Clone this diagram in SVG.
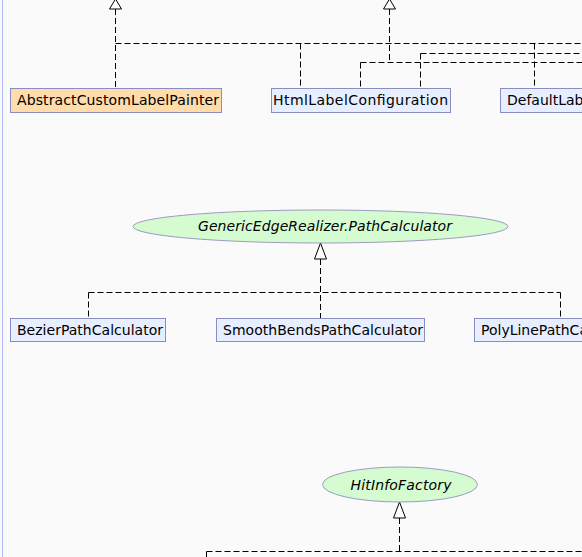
<svg xmlns="http://www.w3.org/2000/svg" width="582" height="557" viewBox="0 0 582 557">
<defs>
<style>
.bg{fill:#fafafa}
.box{stroke:#8a8cc4;stroke-width:1}
.cls{fill:#e6eeff}
.abs{fill:#ffdcaa}
.ifc{fill:#d4fcd0;stroke:#9c9cc0;stroke-width:1}
.t{font-family:"DejaVu Sans",sans-serif;font-size:14px;fill:#000}
.it{font-style:italic;text-anchor:middle}
.e{fill:none;stroke:#000;stroke-width:1;stroke-dasharray:6,3}
.ah{fill:#fff;stroke:#000;stroke-width:1}
</style>
</defs>
<rect class="bg" x="0" y="0" width="582" height="557"/>
<line x1="2.5" y1="0" x2="2.5" y2="557" stroke="#b4bcf8" stroke-width="1"/>
<g id="connectors">
<path class="e" d="M115.5 9V88M115.5 43.5H582M300.5 43.5V88M534.5 43.5V88"/>
<path class="e" d="M389.5 9V62.5M360.5 62.5H582M360.5 62.5V88M420.5 53.5H582M420.5 53.5V88"/>
<path class="e" d="M320.5 259V318M88.5 292.5H560.5M88.5 292.5V318M560.5 292.5V318"/>
<path class="e" d="M399.5 518V551.5M206.5 551.5H582M206.5 551.5V557"/>
<polygon class="ah" points="115.5,-1 109.5,9 121.5,9"/>
<polygon class="ah" points="389.5,-1 383.5,9 395.5,9"/>
<polygon class="ah" points="320.5,243 314.5,259 326.5,259"/>
<polygon class="ah" points="399.5,502 393.5,518 405.5,518"/>
</g>
<g id="AbstractCustomLabelPainter">
<rect class="box abs" x="10.5" y="88.5" width="211" height="24"/>
<text class="t" x="17" y="105" textLength="202">AbstractCustomLabelPainter</text>
</g>
<g id="HtmlLabelConfiguration">
<rect class="box cls" x="271.5" y="88.5" width="179" height="24"/>
<text class="t" x="273" y="105" textLength="175">HtmlLabelConfiguration</text>
</g>
<g id="DefaultLabelConfiguration">
<rect class="box cls" x="500.5" y="88.5" width="160" height="24"/>
<text class="t" x="507" y="105">DefaultLabelConfiguration</text>
</g>
<g id="GenericEdgeRealizer.PathCalculator">
<ellipse class="ifc" cx="320.5" cy="226.5" rx="187.5" ry="16.5"/>
<text class="t it" x="325" y="231" textLength="254">GenericEdgeRealizer.PathCalculator</text>
</g>
<g id="BezierPathCalculator">
<rect class="box cls" x="10.5" y="318.5" width="155" height="23"/>
<text class="t" x="17" y="335" textLength="146">BezierPathCalculator</text>
</g>
<g id="SmoothBendsPathCalculator">
<rect class="box cls" x="216.5" y="318.5" width="208" height="23"/>
<text class="t" x="223" y="335" textLength="200">SmoothBendsPathCalculator</text>
</g>
<g id="PolyLinePathCalculator">
<rect class="box cls" x="474.5" y="318.5" width="180" height="23"/>
<text class="t" x="481" y="335">PolyLinePathCalculator</text>
</g>
<g id="HitInfoFactory">
<ellipse class="ifc" cx="400" cy="484.5" rx="77.5" ry="17.5"/>
<text class="t it" x="401" y="490" textLength="101">HitInfoFactory</text>
</g>
</svg>
